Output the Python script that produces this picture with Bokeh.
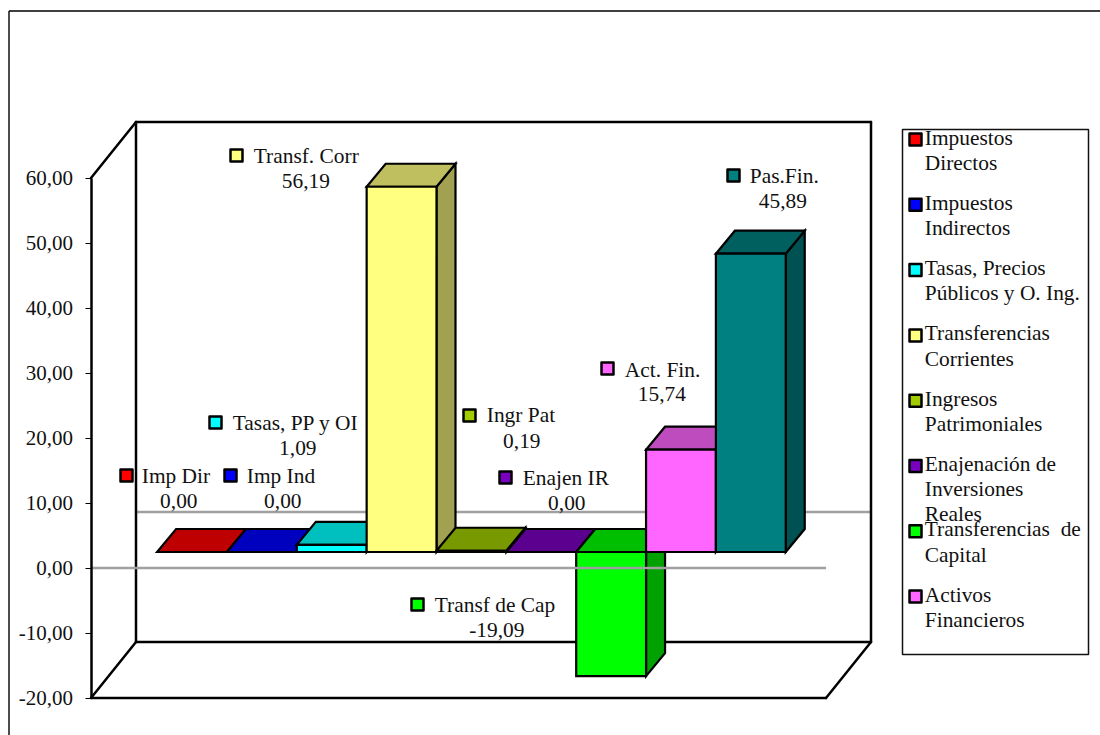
from bokeh.plotting import figure
from bokeh.embed import file_html
from bokeh.resources import INLINE
from bokeh.models import Range1d, FixedTicker
from bokeh.core.properties import value

# ---------- data ----------
short_names = ["Imp Dir", "Imp Ind", "Tasas, PP y OI", "Transf. Corr", "Ingr Pat",
               "Enajen IR", "Transf de Cap", "Act. Fin.", "Pas.Fin."]
values = [0.00, 0.00, 1.09, 56.19, 0.19, 0.00, -19.09, 15.74, 45.89]
value_labels = ["0,00", "0,00", "1,09", "56,19", "0,19", "0,00", "-19,09", "15,74", "45,89"]
colors = [(255, 0, 0), (0, 0, 255), (0, 255, 255), (255, 255, 128), (160, 204, 0),
          (122, 0, 192), (0, 255, 0), (255, 102, 255), (0, 128, 128)]
tick_values = [-20, -10, 0, 10, 20, 30, 40, 50, 60]
tick_labels = ["-20,00", "-10,00", "0,00", "10,00", "20,00", "30,00", "40,00", "50,00", "60,00"]
legend_entries = [["Impuestos", "Directos"], ["Impuestos", "Indirectos"],
                  ["Tasas, Precios", "Públicos y O. Ing."], ["Transferencias", "Corrientes"],
                  ["Ingresos", "Patrimoniales"], ["Enajenación de", "Inversiones", "Reales"],
                  ["Transferencias \u00a0de", "Capital"], ["Activos", "Financieros"]]

# ---------- layout (page pixels) ----------
W, H = 1100, 735
CAT_PX, VAL_PX = 69.85, 6.5     # pixels per category / per value unit
BAR0_PX, ZERO_PX = 156.6, 567.5 # first bar's left edge, zero line on front plane
FONT = "Liberation Serif"
FS = "21.4px"
INK = "#111111"
TEXT_DX, TEXT_DY = -0.7, -8     # the text glyphs sit this far off their requested baseline

x_start = (0 - BAR0_PX) / CAT_PX
x_end = (W - BAR0_PX) / CAT_PX
y_start = (ZERO_PX - H) / VAL_PX
y_end = ZERO_PX / VAL_PX

def X(px):
    return (px - BAR0_PX) / CAT_PX

def Y(py):
    return (ZERO_PX - py) / VAL_PX

wall_dx, wall_dy = 45 / CAT_PX, 56 / VAL_PX
bar_dx, bar_dy = 19 / CAT_PX, 23 / VAL_PX
bar_base = 16 / VAL_PX
front_left, front_right = X(90.5), X(825.5)
y_lo, y_hi = min(tick_values), max(tick_values)

p = figure(width=W, height=H, output_backend="svg", toolbar_location=None,
           x_range=Range1d(x_start, x_end), y_range=Range1d(y_start, y_end),
           min_border_left=0, min_border_right=0, min_border_top=0, min_border_bottom=0,
           x_axis_location=None, outline_line_color=None, background_fill_color="white",
           border_fill_color="white")
p.grid.visible = False

ax = p.yaxis[0]
ax.fixed_location = front_left
ax.ticker = FixedTicker(ticks=tick_values)
ax.minor_tick_line_color = None
ax.major_label_overrides = dict(zip(tick_values, tick_labels))
ax.bounds = (y_lo, y_hi)
ax.axis_line_width = 2.5
ax.axis_line_color = "black"
ax.major_tick_line_color = "black"
ax.major_tick_line_width = 1
ax.major_tick_in = 0
ax.major_tick_out = 6
ax.major_label_standoff = 12
ax.major_label_text_font = FONT
ax.major_label_text_font_size = "21px"
ax.major_label_text_color = INK

# outer chart border: top and left edges of the chart area
p.segment([X(8.5), X(8.5)], [Y(10.5), Y(10.5)], [X(W), X(8.5)], [Y(10.5), Y(H)],
          line_color="black", line_width=1.4)

# back-plane zero line
p.segment([front_left + wall_dx], [wall_dy], [front_right + wall_dx], [wall_dy],
          line_color="#a0a0a0", line_width=2.6)

# 3-D walls and floor: from (x0, y0) to (x1, y1)
bl, br = front_left + wall_dx, front_right + wall_dx
ytop, ybot = y_hi + wall_dy, y_lo + wall_dy
wall_x0 = [front_left, bl, bl, front_left, bl, br, front_left, front_right]
wall_y0 = [y_hi, ytop, ytop, y_lo, ybot, ytop, y_lo, y_lo]
wall_x1 = [bl, bl, br, bl, br, br, front_right, br]
wall_y1 = [ytop, ybot, ytop, ybot, ybot, ybot, y_lo, ybot]
p.segment(wall_x0, wall_y0, wall_x1, wall_y1, line_color="black", line_width=2.5, line_cap="round")

# bars: side, top and front faces, painted left to right
def shade(rgb, k):
    return "#%02x%02x%02x" % tuple(int(round(c * k)) for c in rgb)

xs, ys, fills = [], [], []
for i, (v, c) in enumerate(zip(values, colors)):
    lo, hi = bar_base + min(v, 0), bar_base + max(v, 0)
    l, r = float(i), float(i + 1)
    xs.append([r, r + bar_dx, r + bar_dx, r])
    ys.append([lo, lo + bar_dy, hi + bar_dy, hi])
    fills.append(shade(c, 0.63))
    xs.append([l, l + bar_dx, r + bar_dx, r])
    ys.append([hi, hi + bar_dy, hi + bar_dy, hi])
    fills.append(shade(c, 0.75))
    xs.append([l, r, r, l])
    ys.append([lo, lo, hi, hi])
    fills.append(shade(c, 1.0))
p.patches(xs, ys, fill_color=fills, line_color="black", line_width=2.2, line_join="miter")

# front-plane zero line, painted over the bars
p.segment([front_left], [0], [front_right], [0], line_color="#a0a0a0", line_width=2.6)

# data labels (page pixels): marker x, marker y, name left, name baseline, value centre, value baseline
label_layout = [(126, 475, 142, 483, 179, 508), (230, 475, 247, 483, 283, 508),
                (215, 422, 233, 430, 298, 455), (236, 155, 254, 163, 306, 188),
                (469, 415, 487, 422, 522, 448), (505, 477, 523, 485, 567, 510),
                (417, 604, 435, 612, 497, 637), (607, 368, 625, 377, 662, 401),
                (733, 175, 750, 183, 783, 208)]
hexes = [shade(c, 1.0) for c in colors]
p.scatter([X(t[0]) for t in label_layout], [Y(t[1]) for t in label_layout], marker="square", size=12,
          fill_color=hexes, line_color="black", line_width=2.5, line_join="round")
p.text([X(t[2] + TEXT_DX) for t in label_layout], [Y(t[3] + TEXT_DY) for t in label_layout], text=short_names,
       text_font=value(FONT), text_font_size=value(FS), text_color=INK,
       text_align="left", text_baseline="alphabetic")
p.text([X(t[4] + TEXT_DX) for t in label_layout], [Y(t[5] + TEXT_DY) for t in label_layout], text=value_labels,
       text_font=value(FONT), text_font_size=value(FS), text_color=INK,
       text_align="center", text_baseline="alphabetic")

# legend
p.quad(left=[X(902)], right=[X(1088)], top=[Y(129)], bottom=[Y(654)], fill_color="white",
       line_color=INK, line_width=1.5)
lx, ly, lt = [], [], []
mx, my = [], []
for i, entry in enumerate(legend_entries):
    base = 145 + 65.3 * i
    mx.append(X(915))
    my.append(Y(base - 6))
    for j, line in enumerate(entry):
        lx.append(X(925 + TEXT_DX))
        ly.append(Y(base + 25.2 * j + TEXT_DY))
        lt.append(line)
p.scatter(mx, my, marker="square", size=12, fill_color=hexes[:len(legend_entries)],
          line_color="black", line_width=2.5, line_join="round")
p.text(lx, ly, text=lt, text_font=value(FONT), text_font_size=value(FS), text_color=INK,
       text_align="left", text_baseline="alphabetic")

open("out.html", "w").write(file_html(p, INLINE))
